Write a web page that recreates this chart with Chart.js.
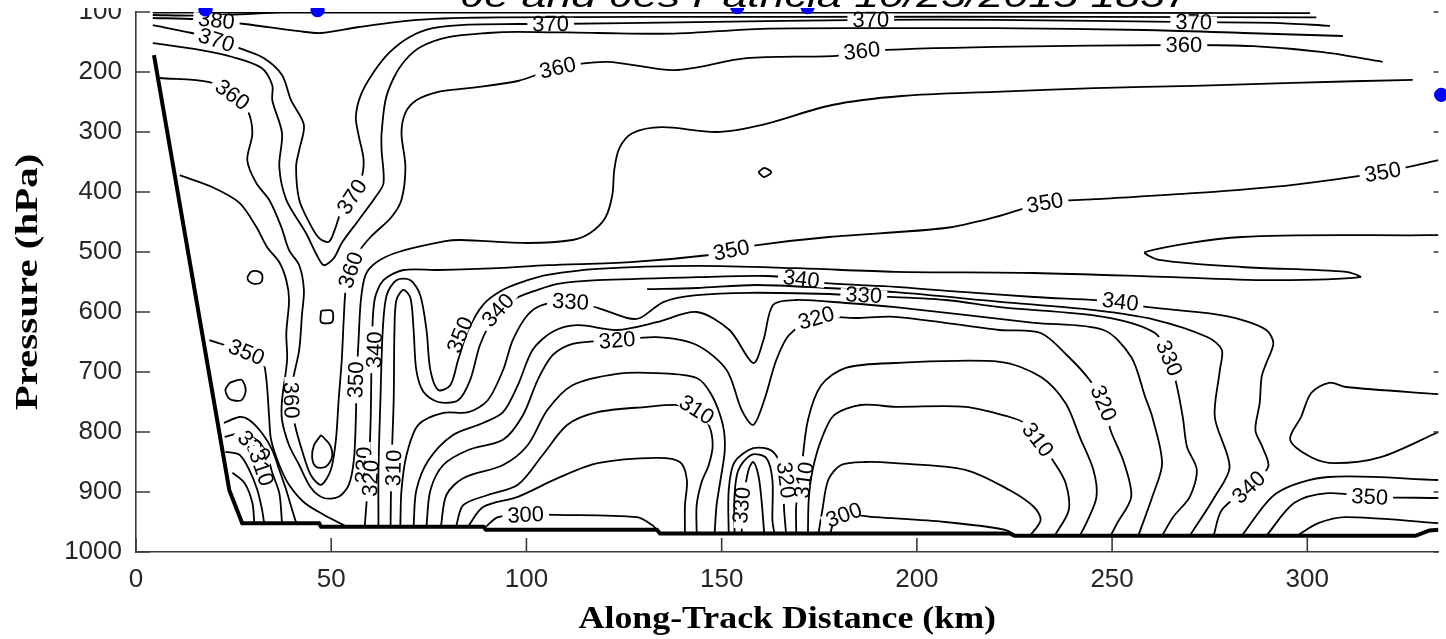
<!DOCTYPE html>
<html>
<head>
<meta charset="utf-8">
<script src="https://cdn.jsdelivr.net/npm/chart.js"></script>
<style>
  html, body { margin: 0; padding: 0; background: #fff; }
</style>
</head>
<body>
<canvas id="chart" width="1446" height="639"></canvas>
<script>
// axis ticks
const kmTicks = [0, 50, 100, 150, 200, 250, 300]
const hpaTicks = [100, 200, 300, 400, 500, 600, 700, 800, 900, 1000]

// ground line [km, hPa]
const terrain = [[4.6,172],[23.9,897],[27.2,952],[46.9,952],[47.4,958],[89,958],[89.6,963],[133.4,963],[134.2,969],[223.8,969],[225,973],[327.7,973],[331.3,964],[333.6,963]]

// contour lines [km, hPa]
const t385 = [[4.3,101],[92.7,101],[194.5,101],[300.7,102]]
const t383 = [[4.3,105],[15,106],[25,104.5],[33,102],[40,99]]
const t380 = [[4.3,110],[15.5,112],[27.8,120],[41.8,132],[47.4,135],[57,125],[72.3,113],[92.7,109],[169.1,108],[245.5,108],[302.3,109]]
const t370 = [[4.3,122],[14.3,135],[20.6,147],[27.2,162],[32.8,177],[37.4,205],[39.7,247],[43,288],[41.8,330],[41,358],[41.8,413],[44.3,450],[46.9,477],[49.4,483],[50.9,463],[52.7,430],[55.3,408],[57.6,380],[58.3,347],[57,305],[56.3,275],[57.6,238],[60.9,200],[65,167],[70,142],[76,127],[85.1,121],[97.8,120],[106.2,120],[143.6,117],[188.2,113],[220,113],[270.9,117],[291.3,118],[305.8,123]]
const t365 = [[4.3,152],[16.3,163],[24.7,175],[32.1,193],[34.9,222],[34.9,247],[37.4,302],[36.7,358],[38.5,413],[43.5,468],[46.3,505],[48.1,522],[50.7,510],[52.7,485],[57,447],[61.4,408],[63.4,385],[62.9,330],[62.9,302],[63.9,247],[66,210],[69,180],[73,158],[80,142],[90,135],[97.8,133],[118.2,135],[138,136],[160.4,128],[194.5,127],[220,127],[258.2,130],[283.7,135],[309.1,140]]
const t360 = [[6.1,210],[18.8,217],[24.7,238],[28.5,263],[29.8,302],[28.5,347],[30.8,385],[34.1,413],[37.2,458],[39.2,497],[41.8,522],[43,563],[42.5,605],[41.8,663],[40.2,713],[39.7,747],[40.7,788],[42.5,830],[44.8,872],[47.4,888],[49.9,863],[51.2,813],[51.9,747],[52.7,680],[53.2,613],[53.7,563],[55,527],[57,500],[60.1,475],[65.4,442],[68,413],[69,358],[68,302],[69,268],[71.8,247],[77.4,233],[85.1,227],[97.8,215],[108,193],[120.7,183],[138,197],[156.4,177],[179.3,173],[185.9,165],[220,158],[268.4,155],[286.2,157],[304,167],[319.3,183]]
const t355 = [[11.2,372],[19.6,392],[26.5,418],[30.8,458],[33.6,492],[36.7,517],[38.5,547],[39.2,580],[38.5,635],[38.7,680],[37.4,747],[37.4,780],[39.2,822],[41.8,855],[44.8,893],[48.1,910],[51.9,908],[54.5,888],[55.8,847],[56.3,780],[56.5,713],[57,647],[57.6,580],[58.8,538],[61.6,517],[67.2,500],[79.2,482],[83.3,480],[100.3,485],[111.8,480],[116.4,468],[120.2,443],[122,405],[122.5,363],[123.8,327],[127.1,302],[134.7,292],[148.7,300],[160.4,288],[178.3,255],[196.1,240],[220,233],[245.5,227],[270.9,223],[296.4,218],[327,213]]
const t350 = [[58.6,956],[59.1,913],[59.6,863],[60.1,780],[60.4,663],[61.1,580],[63.4,547],[68.5,530],[77.4,530],[92.7,527],[105.4,522],[126.6,517],[146.9,505],[152.5,497],[159.7,488],[177.5,475],[207.3,460],[220,442],[232.8,418],[245.5,412],[270.9,402],[296.4,388],[319.3,367],[333.6,347]]
const t345 = [[62.1,957],[62.1,863],[62.6,747],[63.2,630],[64.2,572],[66.7,547],[70.3,547],[72.8,572],[74.4,630],[75.4,697],[77.4,730],[80.5,722],[82.5,680],[85.1,630],[88.9,588],[94,563],[100.3,547],[105.4,538],[118.2,528],[143.6,523],[169.1,527],[194.5,533],[230,535],[265.6,542],[292.1,547],[313.5,542],[309.9,533],[283.2,525],[262,513],[258.5,500],[283.2,475],[331.3,472],[333.6,472]]
const t340 = [[65.2,957],[65.4,863],[66,747],[66.2,630],[66.7,580],[68.5,563],[70.3,577],[71.1,630],[71.8,697],[73.6,733],[77.4,750],[82.5,747],[85.6,713],[88.1,655],[91.4,613],[96.5,580],[102.9,563],[108,553],[118.2,547],[143.6,542],[161.4,540],[170.4,545],[176.7,552],[194.5,558],[212.5,567],[230,575],[252.1,583],[259.2,592],[274.5,602],[283.2,613],[289.5,630],[291.3,652],[289.5,685],[288.3,708],[287.8,752],[286.7,797],[288.5,825],[290,858],[285,892],[278.1,930],[276,973]]
const t335 = [[130.9,562],[143.6,560],[158.9,555],[176.7,560],[194.5,567],[221.3,583],[245.5,597],[261,613],[274.5,642],[278.1,663],[277.6,697],[276.3,775],[280.1,858],[276.3,908],[269.9,973]]
const t330 = [[67.7,957],[68,897],[69.3,838],[72.3,788],[78.7,768],[85.1,767],[90.1,747],[94,697],[96.5,647],[100.3,605],[104.2,588],[111.3,583],[118.2,593],[125.8,610],[129.1,610],[135.2,583],[143.6,572],[157.1,568],[177.5,570],[186.4,573],[207.3,580],[221.3,592],[247.8,608],[261,635],[264.6,677],[266.4,718],[268.1,775],[269.2,825],[271.7,863],[269.9,908],[265.6,942],[262.8,973]]
const t325 = [[71.1,957],[71.8,897],[74.9,847],[81.2,805],[88.9,785],[94,767],[97.8,722],[101.6,663],[106.7,633],[113.1,622],[123.2,630],[133.4,617],[143.6,600],[152,630],[158.1,685],[160.7,647],[163.2,588],[169.1,580],[181.8,585],[194.5,592],[230,618],[247.8,630],[254.9,675],[258.5,742],[260.3,775],[262.8,852],[260.3,908],[256.7,973]]
const t320 = [[74.4,957],[75.4,897],[78.7,855],[85.1,830],[94,813],[99.1,772],[102.9,713],[106.7,672],[111.8,653],[123.2,647],[133.4,642],[143.6,655],[151.3,697],[155.1,763],[158.1,788],[160.9,747],[164,680],[167.3,638],[174.2,610],[184.4,610],[194.5,608],[221.3,630],[231.7,635],[238.9,675],[244.2,713],[247.8,752],[249.6,797],[253.1,852],[254.9,908],[251.3,952],[249.6,973]]
const t315L = [[78.1,957],[79.5,905],[83.8,877],[94,855],[100.3,822],[105.4,763],[111.8,722],[123.2,703],[133.4,702],[143.6,710],[147.4,738],[150.3,788],[150.8,830],[149.7,880],[148.7,922],[148.2,969]]
const t315R = [[169.1,969],[169.1,922],[170.4,863],[172.1,780],[175.5,722],[181.8,693],[194.5,685],[221.3,683],[231.7,708],[238.1,752],[241.7,808],[245.2,863],[246,908],[243.4,952],[241.7,973]]
const t310L = [[82,957],[83.8,922],[90.1,905],[97.8,888],[104.2,838],[110.5,788],[118.2,767],[130.9,758],[138.5,755],[143.6,763],[146.7,788],[147.7,822],[146.7,855],[144.9,883],[143.6,922],[143.6,969]]
const t310R = [[172.1,969],[172.3,913],[173.3,863],[175.5,813],[178.8,772],[185.6,755],[194.5,758],[212.4,758],[223.8,775],[227.4,785],[231,813],[235.3,852],[238.1,885],[238.9,930],[235.3,973]]
const t305L = [[85.1,957],[88.9,925],[97.8,908],[108,877],[118.2,852],[133.4,843],[139.3,850],[141.1,880],[140.6,922],[140.6,969]]
const t305R = [[174.8,969],[175.8,930],[177.3,880],[180.6,855],[186.9,850],[194.5,852],[212.4,863],[223.8,897],[230,925],[231.7,947],[229,973]]
const t300L = [[89.6,958],[92.7,942],[99.8,938],[108,938],[128.3,942],[132.2,955],[133.4,963]]
const t300R = [[177.8,969],[178.8,950],[181.3,938],[189.5,942],[207.3,950],[222.6,963],[225.6,973]]
const o330a = [[155.1,969],[155.8,905],[156.9,863],[158.1,850],[159.4,872],[160.2,913],[160.9,969]]
const o330b = [[153.3,969],[153.3,905],[154.3,863],[157.6,838],[161.4,843],[163,880],[163,947],[163.5,969]]
const o330c = [[151.8,969],[151.8,897],[153.3,850],[158.1,827],[163,832],[165.5,863],[166,930],[166.5,969]]
const p350 = [[18.8,647],[22.7,655],[28.3,667],[32.3,680],[33.4,713],[34.1,775],[34.6,813],[36.7,855],[39.2,888],[43,917],[48.1,938],[53.7,957]]
const w1 = [[22.5,785],[26.5,775],[29,780],[32.3,802],[34.9,830],[36.7,863],[38.5,897],[40,930],[41,951]]
const w2 = [[22.7,808],[27.2,802],[30.8,813],[33.4,835],[34.9,868],[36.7,902],[37.4,951]]
const w3 = [[22.9,833],[26.5,838],[29,863],[31.1,897],[32.3,930],[32.8,951]]
const w4 = [[24.7,868],[27.8,885],[29.8,918],[30.3,951]]
const loopA = [[28.5,542],[29.5,533],[31.1,532],[32.3,538],[32.1,550],[30.3,553],[28.8,548],[28.5,542]]
const loopB = [[47.4,598],[50.2,598],[50.2,617],[47.4,617],[47.4,598]]
const loopC = [[24,718],[27,713],[28.1,730],[27,747],[24,745],[22.9,730],[24,718]]
const loopD = [[47.4,805],[49.7,822],[50.2,842],[48.6,858],[46.1,858],[45.1,842],[45.6,822],[47.4,805]]
const loopE = [[159.4,367],[160.9,360],[162.7,367],[160.9,375],[159.4,367]]
const r345 = [[283.2,973],[292.1,902],[305.3,875],[333.6,880]]
const r350 = [[289.5,973],[296.7,918],[305.3,902],[316,908],[333.6,910]]
const r355 = [[297.4,973],[302.8,952],[309.9,942],[333.6,952]]
const rLoop = [[333.6,737],[309.9,725],[305.6,718],[301,735],[298.4,775],[295.6,813],[301,842],[307.1,852],[318.8,842],[333.6,800]]

const contours = [t385, t383, t380, t370, t365, t360, t355, t350, t345, t340, t335, t330, t325, t320,
  t315L, t315R, t310L, t310R, t305L, t305R, t300L, t300R, o330a, o330b, o330c,
  p350, w1, w2, w3, w4, loopA, loopB, loopC, loopD, loopE, r345, r350, r355, rLoop]

// contour labels
const labelText = ['380','370','360','370','360','360','350','350','340','350','340','330','320','310','300','300','330','320','310','350','340','330','320','370','360','370','360','370','360','350','350','340','330','320','310','340','350','330','310','330','320','310']
const labelKm   = [20.6,20.6,24.7,55.3,55,39.7,28.3,56.3,61.1,83,92.7,111.3,123.2,143.6,99.8,181.3,155.1,166.5,171.1,152.5,170.4,186.4,174.2,106.2,108,188.2,185.9,270.9,268.4,232.8,319.3,252.1,264.6,247.8,231,285,316,30.3,32.1,58.3,60.1,66]
const labelHpa  = [114,147,238,408,530,747,667,713,663,638,597,583,647,763,938,938,922,880,880,497,545,572,610,120,193,113,165,117,155,418,367,583,677,752,813,892,908,825,860,855,877,860]

// dropsonde markers
const sondeKm = [17.8, 46.5, 154, 172, 334.3]
const sondeHpa = [96, 97, 92, 92, 238]

const titleText = 'θe and θes Patricia 10/23/2015 1837'

function pts(arr) {
    return arr.map(p => ({x: p[0], y: p[1]}))
}

const datasets = contours.map(c => ({
    data: pts(c),
    showLine: true,
    borderColor: '#000',
    borderWidth: 1.8,
    pointRadius: 0,
    tension: 0.3,
    fill: false
}))
datasets.push({
    data: pts(terrain),
    showLine: true,
    borderColor: '#000',
    borderWidth: 4,
    pointRadius: 0,
    tension: 0,
    fill: false
})
datasets.push({
    data: sondeKm.map((v, i) => ({x: v, y: sondeHpa[i]})),
    showLine: false,
    pointRadius: 6.5,
    pointBackgroundColor: '#0000ff',
    pointBorderColor: '#0000ff',
    clip: false
})

function pointAt(p, s) {
    if (s <= 0) return p[0]
    for (let i = 0; i < p.length - 1; i++) {
        const dx = p[i+1][0] - p[i][0], dy = p[i+1][1] - p[i][1]
        const len = Math.hypot(dx, dy)
        if (s <= len && len > 0) return [p[i][0] + dx*s/len, p[i][1] + dy*s/len]
        s -= len
    }
    return p[p.length - 1]
}

// direction of the nearest contour, measured over a short stretch of it
function labelAngle(px, py, paths) {
    let best = Infinity, bp = null, bs = 0
    paths.forEach(p => {
        let s = 0
        for (let i = 0; i < p.length - 1; i++) {
            const x1 = p[i][0], y1 = p[i][1], dx = p[i+1][0] - x1, dy = p[i+1][1] - y1
            const len = Math.hypot(dx, dy) || 1
            let t = ((px - x1)*dx + (py - y1)*dy) / (len*len)
            t = Math.max(0, Math.min(1, t))
            const d = Math.hypot(x1 + t*dx - px, y1 + t*dy - py)
            if (d < best) { best = d; bp = p; bs = s + t*len }
            s += len
        }
    })
    const a = pointAt(bp, bs - 16), b = pointAt(bp, bs + 16)
    let ang = Math.atan2(b[1] - a[1], b[0] - a[0])
    if (ang > Math.PI/2) ang -= Math.PI
    if (ang < -Math.PI/2) ang += Math.PI
    return ang
}

const contourLabels = {
    id: 'contourLabels',
    afterDatasetsDraw(chart) {
        const {ctx, scales: {x, y}} = chart
        const paths = contours.map(c => c.map(p => [x.getPixelForValue(p[0]), y.getPixelForValue(p[1])]))
        ctx.save()
        ctx.font = '22px "Liberation Sans", Arial, sans-serif'
        ctx.textAlign = 'center'
        ctx.textBaseline = 'middle'
        labelText.forEach((t, i) => {
            const px = x.getPixelForValue(labelKm[i])
            const py = y.getPixelForValue(labelHpa[i])
            const a = labelAngle(px, py, paths)
            const w = ctx.measureText(t).width + 10
            ctx.save()
            ctx.translate(px, py)
            ctx.rotate(a)
            // break the line under the label only
            ctx.fillStyle = '#fff'
            ctx.fillRect(-w/2, -6, w, 12)
            ctx.fillStyle = '#000'
            ctx.fillText(t, 0, 1)
            ctx.restore()
        })
        ctx.restore()
        // sonde markers sit on top of the label boxes
        chart.getDatasetMeta(chart.data.datasets.length - 1).controller.draw()
    }
}

const frame = {
    id: 'frame',
    afterDraw(chart) {
        const {ctx, chartArea: a, scales: {x, y}} = chart
        ctx.save()
        ctx.strokeStyle = '#3a3a3a'
        ctx.lineWidth = 1.6
        ctx.beginPath()
        hpaTicks.forEach(v => {
            const py = y.getPixelForValue(v)
            ctx.moveTo(a.left, py); ctx.lineTo(a.left + 14, py)
            ctx.moveTo(a.right - 5, py); ctx.lineTo(a.right, py)
        })
        kmTicks.forEach(v => {
            const px = x.getPixelForValue(v)
            ctx.moveTo(px, a.bottom); ctx.lineTo(px, a.bottom - 14)
        })
        ctx.stroke()

        // cropped title strip
        ctx.fillStyle = '#fff'
        ctx.fillRect(0, 0, chart.width, 8)
        ctx.fillStyle = '#000'
        ctx.font = 'italic 34px "Liberation Sans", Arial, sans-serif'
        ctx.textAlign = 'center'
        ctx.textBaseline = 'alphabetic'
        const tw = ctx.measureText(titleText).width
        ctx.save()
        ctx.translate(825, 7)
        ctx.scale(730 / tw, 1)
        ctx.fillText(titleText, 0, 0)
        ctx.restore()

        // axis titles
        ctx.font = 'bold 32px "Liberation Serif", "Times New Roman", serif'
        ctx.save()
        ctx.translate((a.left + a.right) / 2, 628)
        ctx.scale(1.12, 1)
        ctx.fillText('Along-Track Distance (km)', 0, 0)
        ctx.restore()
        ctx.save()
        ctx.translate(37, (a.top + a.bottom) / 2)
        ctx.rotate(-Math.PI / 2)
        ctx.scale(1.28, 1)
        ctx.fillText('Pressure (hPa)', 0, 0)
        ctx.restore()
        ctx.restore()
    }
}

const tickFont = {family: '"Liberation Sans", Arial, sans-serif', size: 26}

new Chart(document.getElementById('chart'), {
    type: 'scatter',
    data: {datasets: datasets},
    options: {
        responsive: false,
        animation: false,
        devicePixelRatio: 1,
        layout: {padding: {top: 12, right: 0, bottom: 0, left: 0}},
        plugins: {legend: {display: false}, tooltip: {enabled: false}, title: {display: false}},
        scales: {
            x: {
                type: 'linear', min: 0, max: 333.6,
                afterBuildTicks: s => { s.ticks = kmTicks.map(v => ({value: v})) },
                afterFit: s => { s.height = 87; s.paddingLeft = 0; s.paddingRight = 0 },
                grid: {display: false, drawTicks: false},
                border: {display: true, color: '#3a3a3a', width: 1.6},
                ticks: {font: tickFont, color: '#262626', padding: 12, maxRotation: 0, callback: v => String(v)}
            },
            y: {
                type: 'linear', min: 100, max: 1000, reverse: true,
                afterBuildTicks: s => { s.ticks = hpaTicks.map(v => ({value: v})) },
                afterFit: s => { s.width = 136; s.paddingTop = 0; s.paddingBottom = 0 },
                grid: {display: false, drawTicks: false},
                border: {display: true, color: '#3a3a3a', width: 1.6},
                ticks: {font: tickFont, color: '#262626', padding: 14, callback: v => String(v)}
            }
        }
    },
    plugins: [contourLabels, frame]
})
</script>
</body>
</html>
